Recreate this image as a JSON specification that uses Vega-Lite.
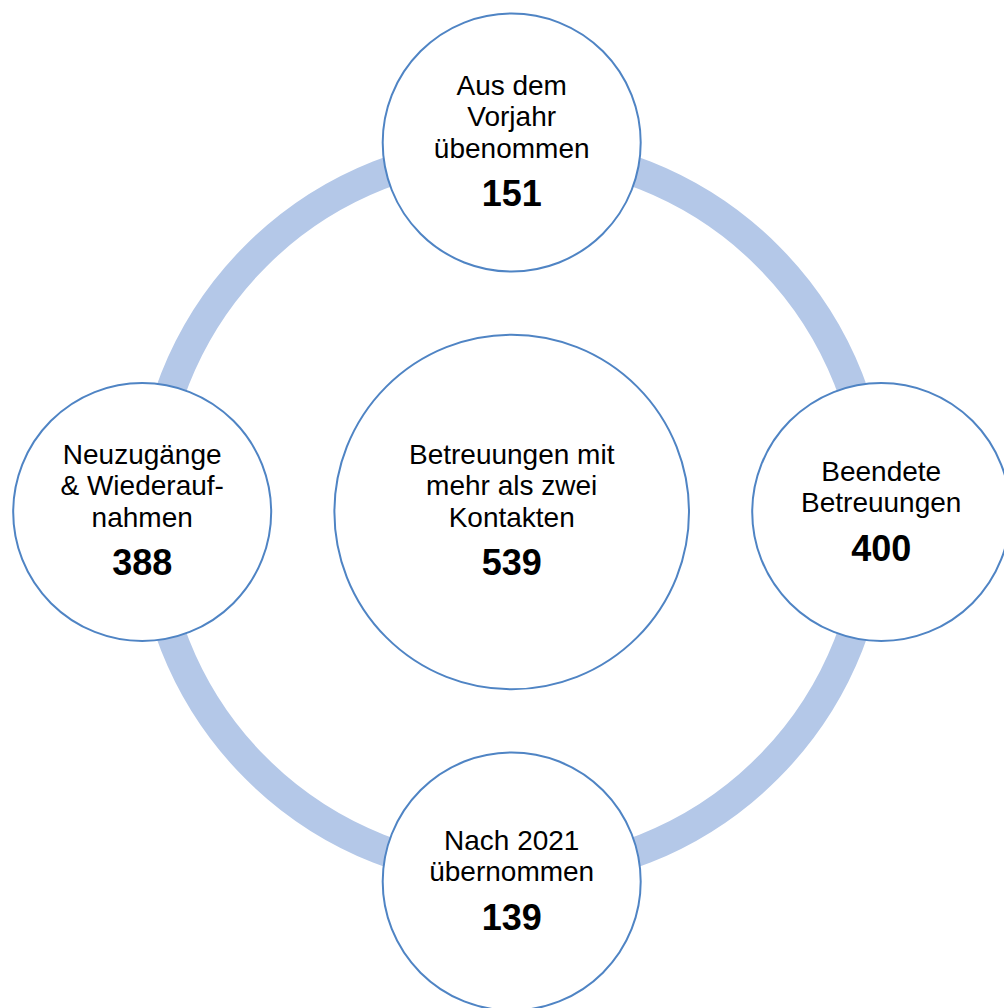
{
  "$schema": "https://vega.github.io/schema/vega-lite/v6.json",
  "width": 1004,
  "height": 1008,
  "padding": 0,
  "autosize": "none",
  "background": "white",
  "config": {"view": {"stroke": null}},
  "data": {
    "values": [
      {"node": "top", "role": "node", "u": 0, "v": 1, "label": "Aus dem\nVorjahr\nübenommen", "value": "151"},
      {"node": "left", "role": "node", "u": -1, "v": 0, "label": "Neuzugänge\n& Wiederauf-\nnahmen", "value": "388"},
      {"node": "right", "role": "node", "u": 1, "v": 0, "label": "Beendete\nBetreuungen", "value": "400"},
      {"node": "bottom", "role": "node", "u": 0, "v": -1, "label": "Nach 2021\nübernommen", "value": "139"},
      {"node": "center", "role": "hub", "u": 0, "v": 0, "label": "Betreuungen mit\nmehr als zwei\nKontakten", "value": "539"}
    ]
  },
  "encoding": {
    "x": {"field": "u", "type": "quantitative", "scale": {"domain": [-1.3848, 1.3323], "nice": false, "zero": false}, "axis": null},
    "y": {"field": "v", "type": "quantitative", "scale": {"domain": [-1.3424, 1.3857], "nice": false, "zero": false}, "axis": null}
  },
  "layer": [
    {
      "transform": [{"filter": "datum.role == 'hub'"}],
      "mark": {"type": "point", "shape": "circle", "filled": false, "size": 524176, "stroke": "#b4c8e8", "strokeWidth": 30, "opacity": 1}
    },
    {
      "mark": {"type": "point", "shape": "circle", "fill": "white", "fillOpacity": 1, "stroke": "#4f84c4", "strokeWidth": 2, "opacity": 1},
      "encoding": {
        "size": {"field": "role", "type": "nominal", "scale": {"domain": ["hub", "node"], "range": [125741, 66564]}, "legend": null}
      }
    },
    {
      "transform": [{"filter": "length(split(datum.label, '\\n')) == 3"}],
      "mark": {"type": "text", "lineBreak": "\n", "font": "Liberation Sans", "fontSize": 28, "lineHeight": 31.5, "baseline": "alphabetic", "align": "center", "dy": -48, "color": "black"},
      "encoding": {"text": {"field": "label", "type": "nominal"}}
    },
    {
      "transform": [{"filter": "length(split(datum.label, '\\n')) == 2"}],
      "mark": {"type": "text", "lineBreak": "\n", "font": "Liberation Sans", "fontSize": 28, "lineHeight": 31, "baseline": "alphabetic", "align": "center", "dy": -31, "color": "black"},
      "encoding": {"text": {"field": "label", "type": "nominal"}}
    },
    {
      "transform": [{"filter": "length(split(datum.label, '\\n')) == 3"}],
      "mark": {"type": "text", "font": "Liberation Sans", "fontSize": 36, "fontWeight": "bold", "baseline": "alphabetic", "align": "center", "dy": 63, "color": "black"},
      "encoding": {"text": {"field": "value", "type": "nominal"}}
    },
    {
      "transform": [{"filter": "length(split(datum.label, '\\n')) == 2"}],
      "mark": {"type": "text", "font": "Liberation Sans", "fontSize": 36, "fontWeight": "bold", "baseline": "alphabetic", "align": "center", "dy": 49, "color": "black"},
      "encoding": {"text": {"field": "value", "type": "nominal"}}
    }
  ]
}
